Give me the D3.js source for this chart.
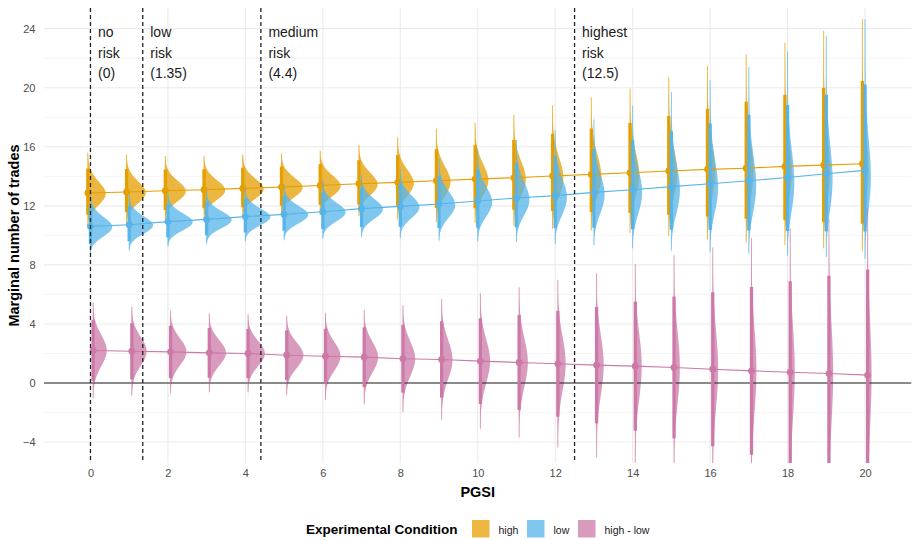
<!DOCTYPE html>
<html>
<head>
<meta charset="utf-8">
<script src="https://cdn.jsdelivr.net/npm/d3@7"></script>
<style>
    body { margin: 0; background: #fff; }
    text { font-family: "Liberation Sans", Arial, sans-serif; }
</style>
</head>
<body>
<div id="chart-container"></div>
<script>
// PGSI values on the x axis
var pgsi = [0, 1, 2, 3, 4, 5, 6, 7, 8, 9, 10, 11, 12, 13, 14, 15, 16, 17, 18, 19, 20];

// "high" condition: posterior median and log-scale sd
var highMedian = [12.87, 12.94, 13.02, 13.09, 13.18, 13.27, 13.38, 13.5, 13.59, 13.7, 13.81,
                  13.9, 14.02, 14.13, 14.24, 14.36, 14.47, 14.55, 14.67, 14.76, 14.85];
var highSpread = [0.062, 0.0576, 0.0536, 0.0517, 0.0517, 0.051, 0.0523, 0.0569, 0.0654, 0.0739, 0.0785,
                  0.0863, 0.0948, 0.1014, 0.1086, 0.1177, 0.1275, 0.1373, 0.1458, 0.155, 0.1635];

// "low" condition
var lowMedian = [10.61, 10.72, 10.93, 11.08, 11.27, 11.42, 11.6, 11.81, 11.96, 12.12, 12.33,
                 12.53, 12.69, 12.91, 13.09, 13.3, 13.5, 13.7, 13.92, 14.17, 14.4];
var lowSpread = [0.062, 0.0562, 0.053, 0.0517, 0.051, 0.0523, 0.0543, 0.0569, 0.0628, 0.0732, 0.0811,
                 0.0883, 0.0968, 0.1046, 0.1164, 0.1269, 0.1347, 0.1439, 0.1543, 0.1635, 0.1733];

// "high - low" contrast: median and sd
var diffMedian = [2.2, 2.15, 2.11, 2.04, 2.0, 1.88, 1.81, 1.75, 1.64, 1.59, 1.48,
                  1.39, 1.3, 1.21, 1.14, 1.05, 0.93, 0.82, 0.73, 0.64, 0.53];
var diffSpread = [1.05, 0.97, 0.9, 0.86, 0.85, 0.86, 0.95, 1.03, 1.17, 1.32, 1.48,
                  1.64, 1.83, 2.01, 2.23, 2.45, 2.66, 2.9, 3.14, 3.38, 3.65];

var conditions = ["high", "low", "high - low"];
var conditionColors = ["#E69F00", "#56B4E9", "#CC79A7"];

var riskCuts = [0, 1.35, 4.4, 12.5];
var riskLabels = [["no", "risk", "(0)"], ["low", "risk", "(1.35)"],
                  ["medium", "risk", "(4.4)"], ["highest", "risk", "(12.5)"]];

var xTicks = [0, 2, 4, 6, 8, 10, 12, 14, 16, 18, 20];
var yTicks = [-4, 0, 4, 8, 12, 16, 20, 24];

var settings = {
    w: 916,
    h: 540,
    left: 44,
    right: 911.5,
    top: 8,
    bottom: 463,
    slabMax: 25,
    dodge: [-0.068, 0, 0.068],
    slabAlpha: 0.75,
    containerId: "#chart-container"
};

// interval widths: thick = 95%, thin = ~99.8%
var Z_THICK = 1.96;
var Z_THIN = 3.1;

function buildRows(medians, spreads, idx, isLog) {
    return pgsi.map(function(p, i) {
        return {x: p + settings.dodge[idx], med: medians[i], sd: spreads[i], log: isLog, cond: idx};
    });
}

var series = [
    buildRows(highMedian, highSpread, 0, true),
    buildRows(lowMedian, lowSpread, 1, true),
    buildRows(diffMedian, diffSpread, 2, false)
];

function quantile(r, z) {
    return r.log ? r.med * Math.exp(z * r.sd) : r.med + z * r.sd;
}

function density(r, v) {
    if (r.log) {
        if (v <= 0) return 0;
        var u = (Math.log(v) - Math.log(r.med)) / r.sd;
        return Math.exp(-0.5 * u * u) / (v * r.sd * Math.sqrt(2 * Math.PI));
    }
    var t = (v - r.med) / r.sd;
    return Math.exp(-0.5 * t * t) / (r.sd * Math.sqrt(2 * Math.PI));
}

function slabPoints(r) {
    var lo = quantile(r, -3.6), hi = quantile(r, 3.6);
    return d3.range(0, 181).map(function(k) {
        var v = lo + (hi - lo) * k / 180;
        return {v: v, d: density(r, v)};
    });
}

series.forEach(function(s) {
    s.forEach(function(r) { r.slab = slabPoints(r); });
});

var maxDens = d3.max(series, function(s) {
    return d3.max(s, function(r) { return d3.max(r.slab, function(p) { return p.d; }); });
});

var xScale = d3.scaleLinear().domain([-1.2, 21.2]).range([settings.left, settings.right]);
var yScale = d3.scaleLinear().domain([-5.42, 25.4]).range([settings.bottom, settings.top]);

var svg = d3.select(settings.containerId).append("svg")
    .attr("width", settings.w).attr("height", settings.h);

svg.append("defs").append("clipPath").attr("id", "panel")
    .append("rect")
    .attr("x", settings.left).attr("y", settings.top)
    .attr("width", settings.right - settings.left)
    .attr("height", settings.bottom - settings.top);

// grid
var yMinor = d3.pairs(yTicks).map(function(p) { return (p[0] + p[1]) / 2; });
var grid = svg.append("g");
grid.selectAll(".minor").data(yMinor).enter().append("line")
    .attr("x1", settings.left).attr("x2", settings.right)
    .attr("y1", yScale).attr("y2", yScale)
    .attr("stroke", "#f2f2f2").attr("stroke-width", 0.8);
grid.selectAll(".ymajor").data(yTicks).enter().append("line")
    .attr("x1", settings.left).attr("x2", settings.right)
    .attr("y1", yScale).attr("y2", yScale)
    .attr("stroke", "#ebebeb").attr("stroke-width", 1.1);
grid.selectAll(".xmajor").data(xTicks).enter().append("line")
    .attr("x1", xScale).attr("x2", xScale)
    .attr("y1", settings.top).attr("y2", settings.bottom)
    .attr("stroke", "#ebebeb").attr("stroke-width", 1.1);

var plot = svg.append("g").attr("clip-path", "url(#panel)");

// slabs
series.forEach(function(s, idx) {
    var area = d3.area()
        .y(function(p) { return yScale(p.v); })
        .x0(function() { return 0; })
        .x1(function(p) { return settings.slabMax * p.d / maxDens; });
    plot.append("g").selectAll("path").data(s).enter().append("path")
        .attr("transform", function(r) { return "translate(" + xScale(r.x) + ",0)"; })
        .attr("d", function(r) { return area(r.slab); })
        .attr("fill", conditionColors[idx])
        .attr("fill-opacity", settings.slabAlpha);
});

// zero line
plot.append("line")
    .attr("x1", settings.left).attr("x2", settings.right)
    .attr("y1", yScale(0)).attr("y2", yScale(0))
    .attr("stroke", "#222").attr("stroke-width", 1.2);

// median lines
var medLine = d3.line()
    .x(function(r) { return xScale(r.x); })
    .y(function(r) { return yScale(r.med); });
series.forEach(function(s, idx) {
    plot.append("path").datum(s)
        .attr("d", medLine)
        .attr("fill", "none")
        .attr("stroke", conditionColors[idx])
        .attr("stroke-width", 1.1);
});

// intervals and points
series.forEach(function(s, idx) {
    var g = plot.append("g").attr("stroke", conditionColors[idx]).attr("fill", conditionColors[idx]);
    g.selectAll(".thin").data(s).enter().append("line")
        .attr("x1", function(r) { return xScale(r.x); })
        .attr("x2", function(r) { return xScale(r.x); })
        .attr("y1", function(r) { return yScale(quantile(r, -Z_THIN)); })
        .attr("y2", function(r) { return yScale(quantile(r, Z_THIN)); })
        .attr("stroke-width", 1)
        .attr("stroke-opacity", 0.7);
    g.selectAll(".thick").data(s).enter().append("line")
        .attr("x1", function(r) { return xScale(r.x); })
        .attr("x2", function(r) { return xScale(r.x); })
        .attr("y1", function(r) { return yScale(quantile(r, -Z_THICK)); })
        .attr("y2", function(r) { return yScale(quantile(r, Z_THICK)); })
        .attr("stroke-width", 3.3);
    g.selectAll("circle").data(s).enter().append("circle")
        .attr("cx", function(r) { return xScale(r.x); })
        .attr("cy", function(r) { return yScale(r.med); })
        .attr("r", 3.4)
        .attr("stroke", "none");
});

// risk thresholds
svg.append("g").selectAll("line").data(riskCuts).enter().append("line")
    .attr("x1", xScale).attr("x2", xScale)
    .attr("y1", settings.top).attr("y2", settings.bottom)
    .attr("stroke", "#222")
    .attr("stroke-width", 1.3)
    .attr("stroke-dasharray", "4,3");

svg.append("g").selectAll("text").data(riskCuts).enter().append("text")
    .attr("x", function(d) { return xScale(d) + 7.5; })
    .attr("y", 37)
    .attr("font-size", "14px")
    .attr("fill", "#1a1a1a")
    .each(function(d, i) {
        var t = d3.select(this);
        riskLabels[i].forEach(function(line, j) {
            t.append("tspan").attr("x", xScale(d) + 7.5).attr("dy", j === 0 ? 0 : 20.5).text(line);
        });
    });

// axes
var yAxis = d3.axisLeft(yScale).tickValues(yTicks).tickSize(0).tickPadding(8.5);
var xAxis = d3.axisBottom(xScale).tickValues(xTicks).tickSize(0).tickPadding(6.5);

var yAxisDom = svg.append("g").attr("transform", "translate(" + settings.left + ",0)").call(yAxis);
var xAxisDom = svg.append("g").attr("transform", "translate(0," + settings.bottom + ")").call(xAxis);
[yAxisDom, xAxisDom].forEach(function(a) {
    a.select(".domain").remove();
    a.selectAll("text")
        .attr("font-family", "'Liberation Sans', Arial, sans-serif")
        .attr("font-size", "11px")
        .attr("fill", "#4d4d4d");
});

svg.append("text")
    .attr("transform", "translate(19," + ((settings.top + settings.bottom) / 2) + ") rotate(-90)")
    .attr("text-anchor", "middle")
    .attr("font-size", "14.5px")
    .attr("font-weight", "bold")
    .attr("fill", "#000")
    .text("Marginal number of trades");

svg.append("text")
    .attr("x", (settings.left + settings.right) / 2)
    .attr("y", 497)
    .attr("text-anchor", "middle")
    .attr("font-size", "14.5px")
    .attr("font-weight", "bold")
    .attr("fill", "#000")
    .text("PGSI");

// legend
var legend = svg.append("g").attr("transform", "translate(0,534)");
legend.append("text")
    .attr("x", 306)
    .attr("font-size", "13.5px")
    .attr("font-weight", "bold")
    .attr("fill", "#000")
    .text("Experimental Condition");

var keyX = [472, 527, 578];
var keys = legend.selectAll(".key").data(conditions).enter().append("g")
    .attr("transform", function(d, i) { return "translate(" + keyX[i] + ",0)"; });
keys.append("rect")
    .attr("x", 0).attr("y", -14)
    .attr("width", 17.5).attr("height", 17.5)
    .attr("fill", function(d, i) { return conditionColors[i]; })
    .attr("fill-opacity", settings.slabAlpha);
keys.append("text")
    .attr("x", 26.5)
    .attr("y", 0)
    .attr("font-size", "10.5px")
    .attr("fill", "#1a1a1a")
    .text(function(d) { return d; });
</script>
</body>
</html>
